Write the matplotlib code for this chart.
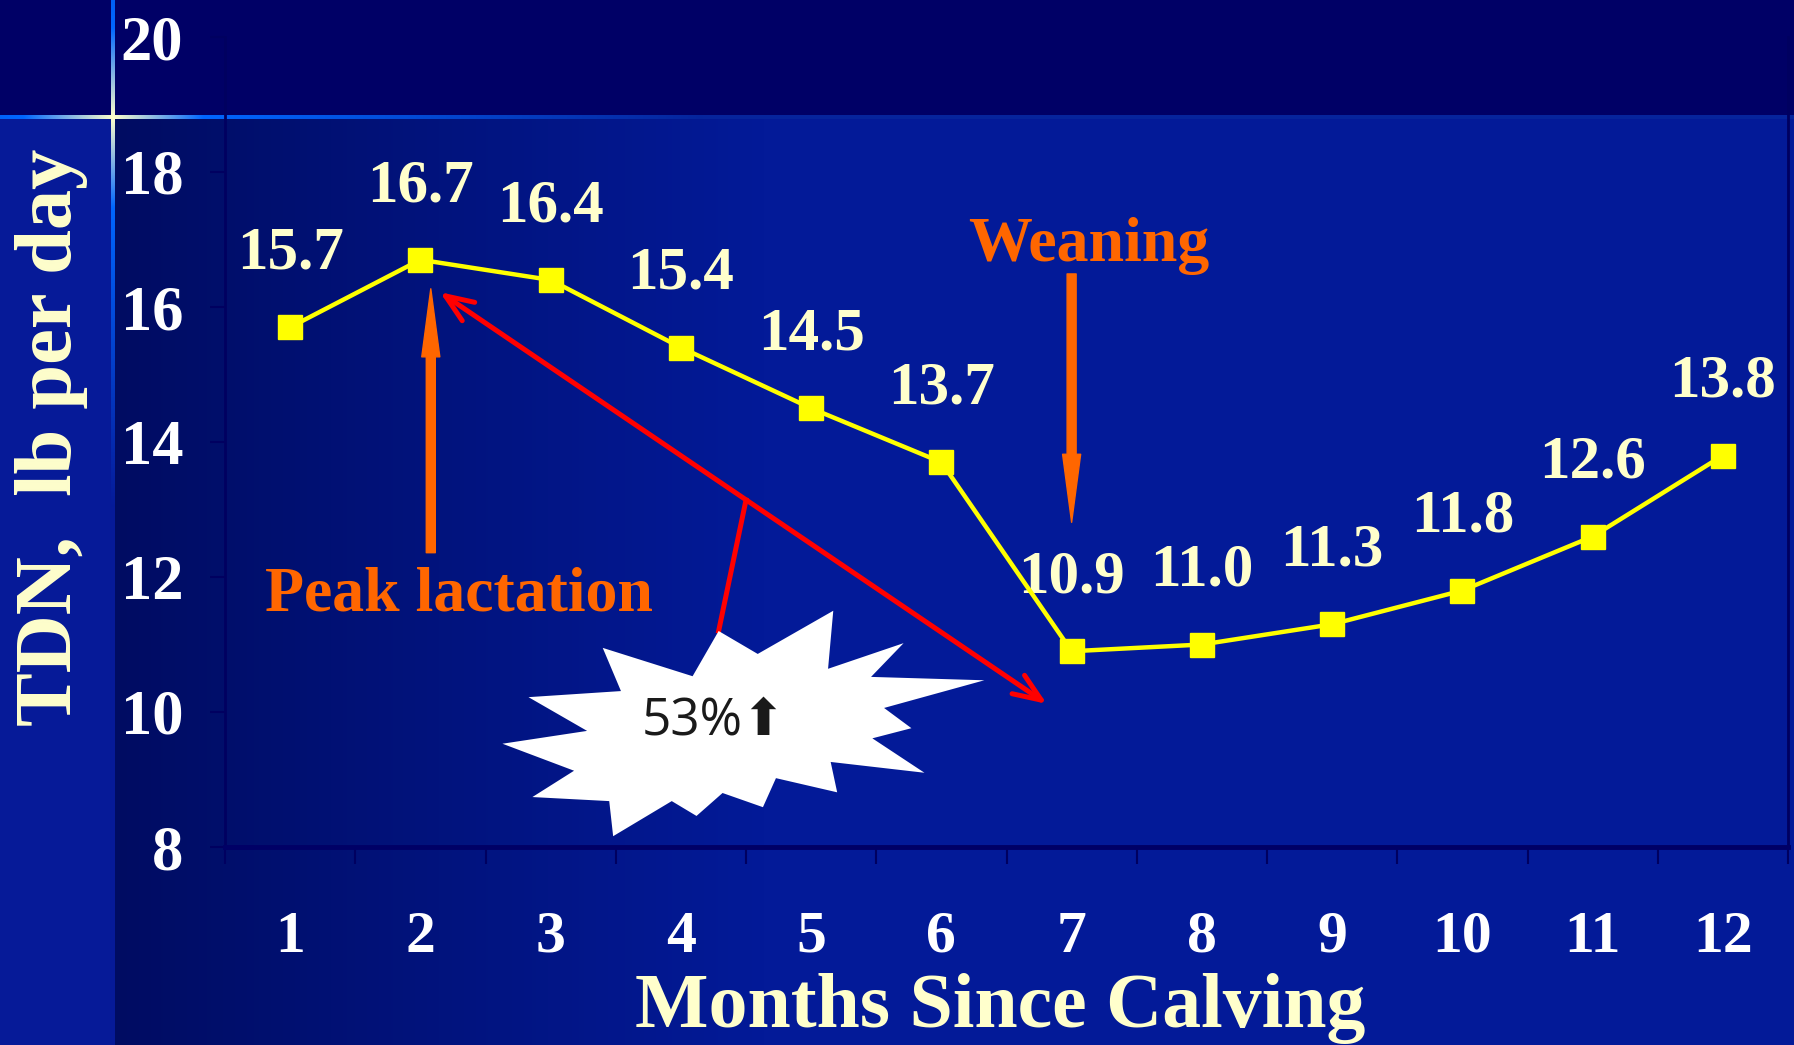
import numpy as np
import matplotlib
matplotlib.use('Agg')
import matplotlib.pyplot as plt
from matplotlib.patches import Polygon, FancyArrowPatch, ArrowStyle

months = [1, 2, 3, 4, 5, 6, 7, 8, 9, 10, 11, 12]
tdn = [15.7, 16.7, 16.4, 15.4, 14.5, 13.7, 10.9, 11.0, 11.3, 11.8, 12.6, 13.8]
y_ticks = [8, 10, 12, 14, 16, 18, 20]

W, H = 1794, 1045
SERIF = 'Liberation Serif'
CREAM = '#ffffcc'
ORANGE = '#ff6600'
NAVY = '#000060'

# starburst callout outline (x = month, y = lb/day)
star_x = [4.29, 4.59, 5.17, 5.13, 5.71, 5.46, 6.33, 5.56, 5.77, 5.47, 5.87, 5.15, 5.20, 4.73,
          4.63, 4.32, 4.12, 3.93, 3.48, 3.45, 2.86, 3.18, 2.63, 3.28, 2.83, 3.54, 3.40, 4.09]
star_y = [11.20, 10.86, 11.50, 10.64, 11.02, 10.52, 10.47, 10.06, 9.76, 9.61, 9.10, 9.26, 8.81, 9.02,
          8.59, 8.80, 8.46, 8.68, 8.16, 8.68, 8.74, 9.13, 9.53, 9.72, 10.22, 10.31, 10.95, 10.53]


def rgb(h):
    h = h.lstrip('#')
    return np.array([int(h[i:i + 2], 16) for i in (0, 2, 4)]) / 255.0


def slide_background():
    img = np.zeros((H, W, 3))
    xs = np.arange(W)
    t = np.clip((xs - 114) / 650.0, 0, 1)[:, None]
    row = rgb('#000c62') * (1 - t) + rgb('#031a98') * t
    row[xs < 114] = rgb('#061a98')
    img[:] = row[None, :, :]
    img[:117] = rgb('#000066')

    cream, bright = rgb('#ffffcc'), rgb('#0066ff')

    def glow(d, far, fade):
        a = np.clip(d / 90.0, 0, 1)[:, None]
        c = cream * (1 - a) + bright * a
        b = np.clip((d - 90) / fade, 0, 1)[:, None]
        return c * (1 - b) + far * b

    # horizontal rule under the title band
    hx = glow(np.abs(xs - 113.0), rgb('#06249c'), 500.0)
    for r in range(115, 119):
        img[r] = hx
    # vertical rule left of the value axis
    ys = np.arange(H)
    vy = glow(np.abs(ys - 117.0), rgb('#061a98'), 300.0)
    for c in range(111, 115):
        img[:, c] = vy
    return img


fig = plt.figure(figsize=(W / 100, H / 100), dpi=100)
bg = fig.add_axes([0, 0, 1, 1], zorder=0)
bg.imshow(slide_background(), aspect='auto', interpolation='bilinear')
bg.axis('off')

ax = fig.add_axes([225 / W, (H - 847) / H, (1788 - 225) / W, (847 - 37) / H], zorder=1)
ax.patch.set_alpha(0)
ax.set_xlim(0.5, 12.5)
ax.set_ylim(8, 20)

for side in ['left', 'right']:
    ax.spines[side].set_color(NAVY)
    ax.spines[side].set_linewidth(2)
ax.spines['bottom'].set_color('#000066')
ax.spines['bottom'].set_linewidth(3.5)
ax.spines['top'].set_visible(False)

# category boundaries carry the tick marks, month labels sit between them
ax.set_xticks(np.arange(0.5, 13, 1))
ax.set_xticklabels([])
ax.set_xticks(months, minor=True)
ax.set_xticklabels([str(m) for m in months], minor=True)
ax.tick_params(axis='x', which='major', length=12, width=1.5, color=NAVY, direction='out')
ax.tick_params(axis='x', which='minor', length=0, pad=46, labelsize=43, labelcolor='white')
ax.set_yticks(y_ticks)
ax.set_yticklabels([str(v) for v in y_ticks])
ax.tick_params(axis='y', length=11, width=1.5, color=NAVY, pad=19, labelsize=45, labelcolor='white')
for lbl in ax.get_xticklabels(minor=True) + ax.get_yticklabels():
    lbl.set_fontfamily(SERIF)
    lbl.set_fontweight('bold')

ax.plot(months, tdn, color='#ffff00', lw=3.2, marker='s', ms=17, mec='#ffff00', mfc='#ffff00', zorder=5)
for m, v in zip(months, tdn):
    ax.annotate(f'{v:.1f}', (m, v), xytext=(0, 53), textcoords='offset points',
                ha='center', va='center', color=CREAM, fontsize=44,
                fontfamily=SERIF, fontweight='bold')

# orange pointers
orange_head = ArrowStyle('Simple', head_length=49, head_width=13, tail_width=6.5)
ax.add_patch(FancyArrowPatch((7.0, 16.49), (7.0, 12.81), arrowstyle=orange_head,
                             color=ORANGE, shrinkA=0, shrinkB=0, zorder=4))
ax.add_patch(FancyArrowPatch((2.08, 12.36), (2.08, 16.27), arrowstyle=orange_head,
                             color=ORANGE, shrinkA=0, shrinkB=0, zorder=4))
ax.text(7.13, 16.90, 'Weaning', ha='center', va='center', color=ORANGE,
        fontsize=46, fontfamily=SERIF, fontweight='bold')
ax.text(2.30, 11.73, 'Peak lactation', ha='center', va='center', color=ORANGE,
        fontsize=46, fontfamily=SERIF, fontweight='bold')

# red span between peak and weaning, with its callout
ax.add_patch(FancyArrowPatch((2.15, 16.22), (6.81, 10.12),
                             arrowstyle=ArrowStyle('<->', head_length=20, head_width=8),
                             color='#ff0000', lw=3.6, capstyle='round', shrinkA=0, shrinkB=0, zorder=4))
ax.plot([4.50, 4.29], [13.14, 11.20], color='#ff0000', lw=3.6, zorder=4)
ax.add_patch(Polygon(list(zip(star_x, star_y)), closed=True, facecolor='white',
                     edgecolor='none', zorder=6))
ax.text(4.25, 9.86, '53%\u2b06', ha='center', va='center', color='#1a1a1a', fontsize=37,
        family=['Open Sans', 'DejaVu Sans'], zorder=7)

fig.text(1000 / W, (H - 1027) / H, 'Months Since Calving', ha='center', va='baseline',
         color=CREAM, fontsize=56, fontfamily=SERIF, fontweight='bold')
fig.text(51 / W, (H - 437) / H, 'TDN,  lb per day', rotation=90, ha='center', va='center',
         color=CREAM, fontsize=58, fontfamily=SERIF, fontweight='bold')

fig.savefig('out.png', dpi=100)
